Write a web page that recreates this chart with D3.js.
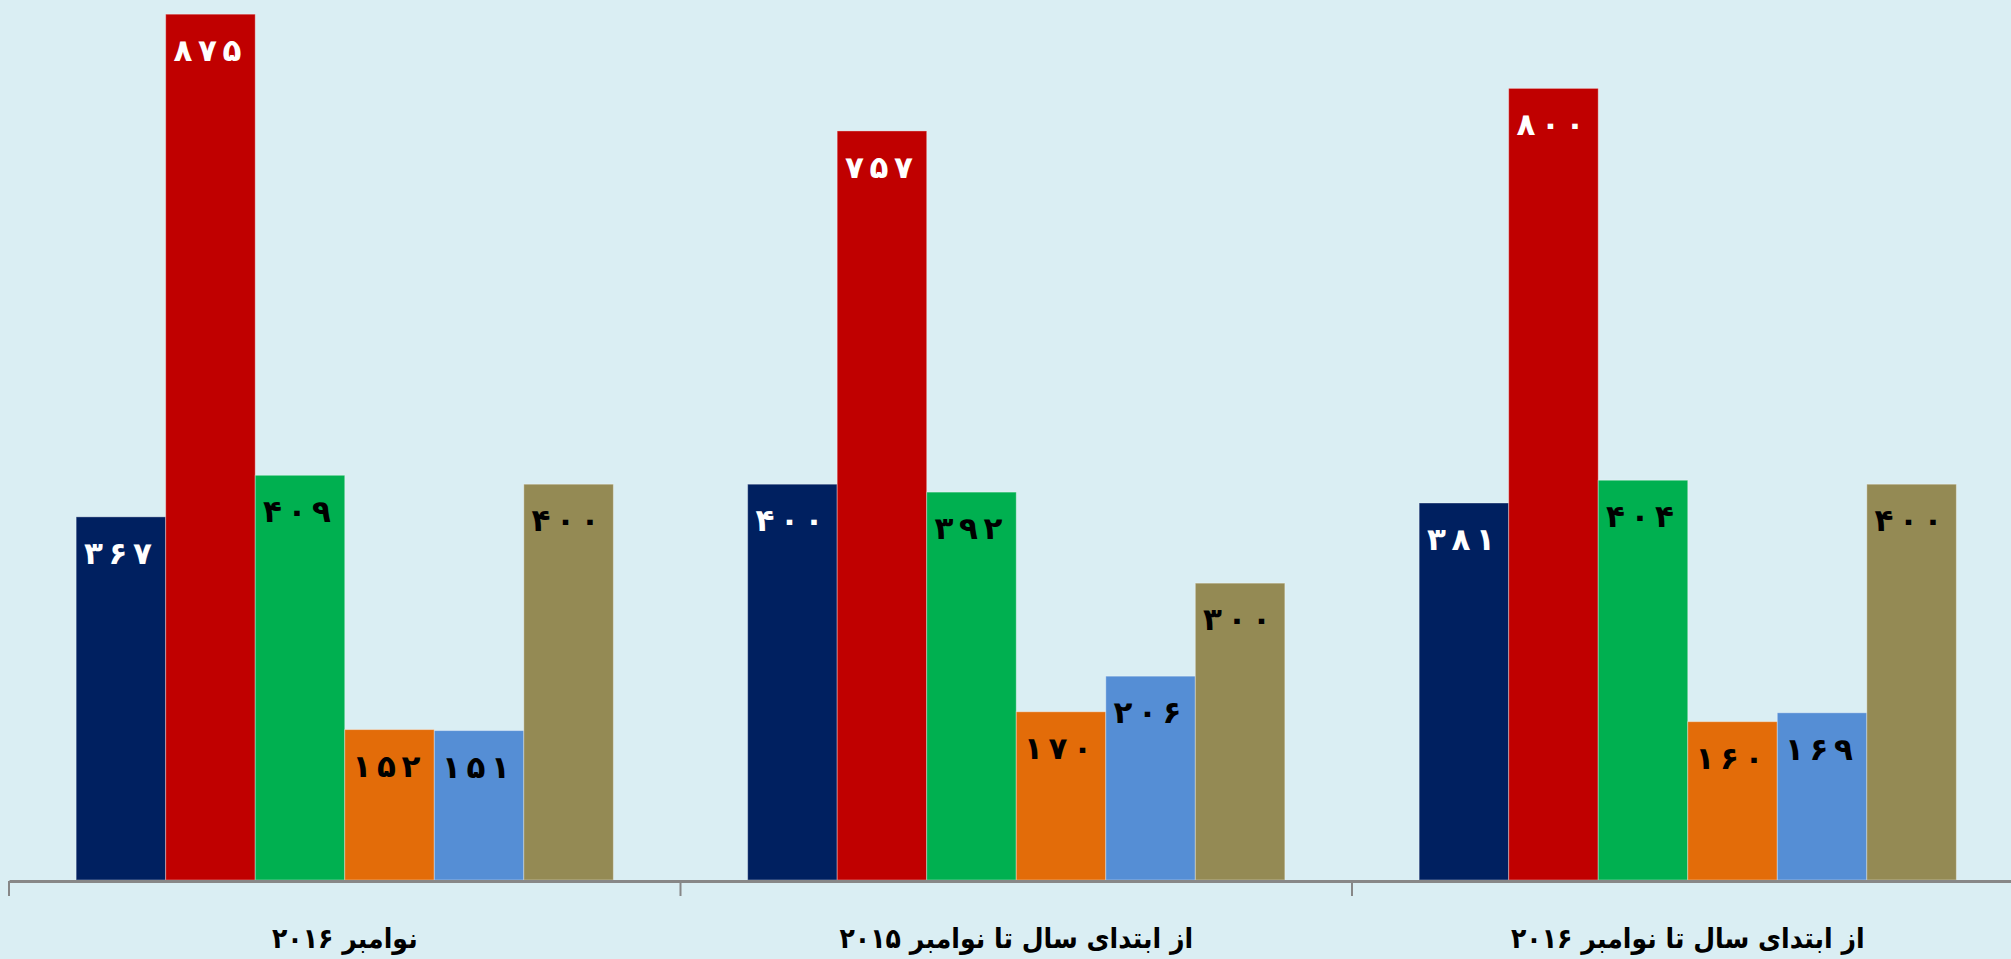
<!DOCTYPE html>
<html>
<head>
<meta charset="utf-8">
<script src="https://cdn.jsdelivr.net/npm/d3@7"></script>
<style>
html,body{margin:0;padding:0;background:#DAEEF3;overflow:hidden;}
svg{display:block;}
</style>
</head>
<body>
<svg id="chart" width="2011" height="959"></svg>
<script>
// ---- data ----
const categories = ["نوامبر ۲۰۱۶", "از ابتدای سال تا نوامبر ۲۰۱۵", "از ابتدای سال تا نوامبر ۲۰۱۶"];
const seriesNames = ["s1", "s2", "s3", "s4", "s5", "s6"];
const s1 = [367, 400, 381];
const s2 = [875, 757, 800];
const s3 = [409, 392, 404];
const s4 = [152, 170, 160];
const s5 = [151, 206, 169];
const s6 = [400, 300, 400];
const seriesValues = [s1, s2, s3, s4, s5, s6];
const seriesColors = ["#002060", "#C00000", "#00B050", "#E36C09", "#558ED5", "#948A54"];
const labelColors = ["#FFFFFF", "#FFFFFF", "#000000", "#000000", "#000000", "#000000"];

const W = 2011, H = 959;
const svg = d3.select("#chart");
svg.append("rect").attr("width", W).attr("height", H).attr("fill", "#DAEEF3");

const baseY = 880;
const x0 = d3.scaleBand().domain(categories).range([9, 9 + 3 * 671.5]).padding(0);
const x1 = d3.scaleBand().domain(seriesNames).range([0.1 * x0.bandwidth(), 0.9 * x0.bandwidth()]).padding(0);
const y = d3.scaleLinear().domain([0, 900]).range([baseY, baseY - 900 * 0.9895]);

const faDigits = n => String(n).split("").map(d => "۰۱۲۳۴۵۶۷۸۹"[+d]);

const groups = svg.append("g").selectAll("g")
  .data(categories)
  .join("g")
  .attr("transform", d => `translate(${x0(d)},0)`);

const pitch = 24.5;
groups.each(function(cat, ci) {
  const g = d3.select(this);
  const items = seriesNames.map((s, si) => ({s, si, v: seriesValues[si][ci]}));
  g.selectAll("rect").data(items).join("rect")
    .attr("x", d => x1(d.s))
    .attr("y", d => y(d.v))
    .attr("width", x1.bandwidth())
    .attr("height", d => baseY - y(d.v))
    .attr("fill", d => seriesColors[d.si])
    .attr("stroke", "rgba(255,255,255,0.35)")
    .attr("stroke-width", 1);
  const t = g.selectAll("text.val").data(items).join("text")
    .attr("class", "val")
    .attr("y", d => y(d.v) + 47)
    .attr("text-anchor", "middle")
    .attr("font-family", "DejaVu Sans")
    .attr("font-weight", "bold")
    .attr("font-size", 31)
    .attr("fill", d => labelColors[d.si]);
  t.each(function(d) {
    const digits = faDigits(d.v);
    const cx = x1(d.s) + x1.bandwidth() / 2 - 3;
    d3.select(this).selectAll("tspan").data(digits).join("tspan")
      .attr("x", (c, i) => cx + (i - (digits.length - 1) / 2) * pitch)
      .text(c => c);
  });
});

// axis
const axis = d3.axisBottom(x0).tickSize(0).tickFormat("");
const ax = svg.append("g").attr("transform", `translate(0,${baseY + 1})`).call(axis);
ax.select(".domain").attr("stroke", "#878787").attr("stroke-width", 3);
ax.selectAll(".tick").remove();
const tickPos = categories.map(c => x0(c));
ax.selectAll("line.tk").data(tickPos).join("line")
  .attr("class", "tk")
  .attr("x1", d => d).attr("x2", d => d)
  .attr("y1", 0).attr("y2", 15)
  .attr("stroke", "#878787").attr("stroke-width", 2);

svg.append("g").selectAll("text").data(categories).join("text")
  .attr("x", d => x0(d) + x0.bandwidth() / 2)
  .attr("y", 948)
  .attr("text-anchor", "middle")
  .attr("direction", "rtl")
  .attr("font-family", "'DejaVu Sans Condensed', 'DejaVu Sans'")
  .attr("font-weight", "bold")
  .attr("font-size", 28)
  .attr("fill", "#000")
  .text(d => d);
</script>
</body>
</html>
